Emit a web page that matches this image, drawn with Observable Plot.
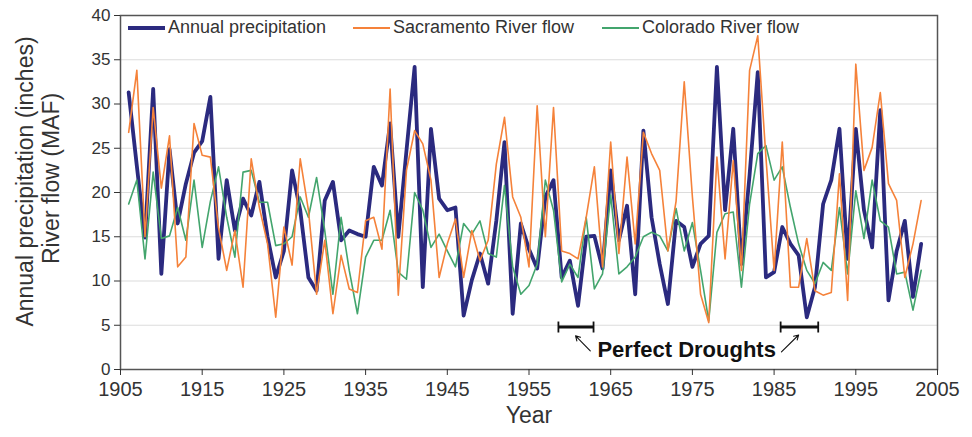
<!DOCTYPE html>
<html>
<head>
<meta charset="utf-8">
<script src="https://cdn.jsdelivr.net/npm/d3@7"></script>
<script src="https://cdn.jsdelivr.net/npm/@observablehq/plot@0.6"></script>
<style>
  body { margin: 0; background: #fff; }
  #wrap { position: relative; width: 972px; height: 437px; font-family: "Liberation Sans", Arial, sans-serif; }
  .leg { position: absolute; top: 17px; height: 21px; line-height: 21px; font-size: 18px; color: #333; white-space: nowrap; display: flex; align-items: center; }
  .sw { display: inline-block; width: 37px; margin-right: 3px; }
</style>
</head>
<body>
<div id="wrap"></div>
<script>
const years = d3.range(1906, 2004);
const precipitation = [31.3,23,14.9,31.7,10.8,24.9,16.5,21,24.5,25.8,30.8,12.5,21.4,15.7,19.3,17.4,21.2,15,10.4,13.4,22.5,18,10.4,8.9,19.1,21.2,14.6,15.7,15.3,15,22.9,20.8,27.8,15,24.7,34.2,9.3,27.2,19.3,18,18.3,6.1,10.1,13.1,9.7,16.8,25.7,6.3,16.5,13.6,11.4,19.5,21.4,10.4,12.3,7.2,15,15.1,11.4,22.5,14.6,18.5,8.5,27,17.2,11.9,7.4,16.8,16.1,11.6,14.2,15.1,34.2,18,27.2,11.9,22,33.6,10.4,11,16.1,14.2,12.9,5.9,9.3,18.7,21.4,27.2,12.5,27.2,18,13.8,29.3,7.8,13.4,16.8,8.2,14.2];
const sacramento = [26.8,33.8,15,29.6,20.5,26.4,11.6,12.7,27.8,24.2,24,16,11.2,15.7,9.3,23.8,18.3,14.2,5.9,16.1,11.8,23.8,18,8.5,14.6,6.3,12.9,9.1,8.7,16.8,17.2,13.6,31.7,8.4,22.5,27,25.5,21.4,10.4,14.2,17,10.4,15.7,12.3,14.6,23.2,28.5,19.5,17.2,11.6,29.8,15,29.6,13.4,13.1,12.5,17.2,22.9,11.6,25.7,13.1,24,14.2,26.8,24.4,22.5,13.4,19,32.5,19.5,8.5,5.3,24,12.5,23.6,11.2,33.8,37.7,24,11.2,25.7,9.3,9.3,14.8,8.9,8.4,8.7,22.1,7.8,34.5,22.5,25.1,31.3,21,19.1,10.4,14.2,19.1];
const colorado = [18.7,21.4,12.5,22.3,14.8,15.1,18.3,14.6,21.4,13.8,19,22.9,17.2,12.7,22.3,22.5,18.9,18.9,14,14.2,15,19.5,17.2,21.7,15.7,8.5,17.2,11.2,6.3,12.7,14.6,14.6,18,11,10.2,20,18,13.8,15.3,13.4,11.6,16.5,15.3,16.8,13.1,12.7,20.8,11.6,8.5,9.5,11.9,21.4,18,9.9,11.9,10.4,17.2,9.1,10.8,19.7,10.8,11.6,12.7,15,15.5,15.1,13.4,18.2,13.4,16.6,11.2,5.5,15.5,17.6,17.8,9.3,18.7,24.4,25.3,21.4,22.9,18.3,14.2,11.2,9.7,12.1,11.2,18.3,10.8,20.2,14.8,21.4,16.8,16.1,10.8,11,6.7,11.2];
const xTicks = [1905,1915,1925,1935,1945,1955,1965,1975,1985,1995,2005];
const yTicks = [0,5,10,15,20,25,30,35,40];
const droughtStart = [1958.6, 1985.8];
const droughtEnd = [1962.9, 1990.4];
const seriesNames = ["Annual precipitation", "Sacramento River flow", "Colorado River flow"];
const seriesColors = ["#2b2a7f", "#f5823a", "#43a56d"];

const data = years.map((yr, i) => ({year: yr, precip: precipitation[i], sac: sacramento[i], col: colorado[i]}));
const droughts = droughtStart.map((s, i) => ({s, e: droughtEnd[i]}));
const barY = 4.8;
const caps = droughts.flatMap(d => [d.s, d.e]);
const arrows = [
  {x1: 1962.5, y1: 2.1, x2: 1960.7, y2: 3.8},
  {x1: 1985.9, y1: 2.0, x2: 1988.0, y2: 3.9}
];

const chart = Plot.plot({
  width: 972, height: 437,
  marginLeft: 120, marginRight: 35, marginTop: 15, marginBottom: 68,
  style: {fontFamily: "'Liberation Sans', Arial, sans-serif", color: "#333", background: "#fff"},
  x: {domain: [1905, 2005]},
  y: {domain: [0, 40]},
  marks: [
    Plot.ruleY(yTicks.filter(d => d > 0 && d < 40), {stroke: "#dcdcdc", strokeWidth: 1.2}),
    Plot.line(data, {x: "year", y: "precip", stroke: seriesColors[0], strokeWidth: 3.8, strokeLinejoin: "round"}),
    Plot.line(data, {x: "year", y: "col", stroke: seriesColors[2], strokeWidth: 1.6}),
    Plot.line(data, {x: "year", y: "sac", stroke: seriesColors[1], strokeWidth: 1.6}),
    Plot.frame({stroke: "#555", strokeWidth: 1.5}),
    Plot.link(droughts, {x1: "s", x2: "e", y1: barY, y2: barY, stroke: "#111", strokeWidth: 3.2}),
    Plot.link(caps, {x1: d => d, x2: d => d, y1: barY - 0.62, y2: barY + 0.62, stroke: "#111", strokeWidth: 1.8}),
    Plot.arrow(arrows, {x1: "x1", y1: "y1", x2: "x2", y2: "y2", stroke: "#111", strokeWidth: 1.1, headLength: 7, bend: 0}),
    Plot.text(["Perfect Droughts"], {x: 1974.3, y: 2.2, text: d => d, fontSize: 22, fontWeight: "bold", fill: "#111"}),
    Plot.axisX({ticks: xTicks, tickFormat: d => String(d), tickSize: 6, tickPadding: 6, fontSize: 20, label: null}),
    Plot.axisY({ticks: yTicks, tickSize: 6, tickPadding: 4, fontSize: 17, label: null}),
    Plot.text(["Year"], {frameAnchor: "bottom", dy: 53, text: d => d, fontSize: 23, fill: "#333"}),
    Plot.text(["Annual precipitation (inches)"], {frameAnchor: "top-left", dx: -104, dy: 166, rotate: -90, textAnchor: "middle", text: d => d, fontSize: 23, fill: "#333"}),
    Plot.text(["River flow (MAF)"], {frameAnchor: "top-left", dx: -78, dy: 163, rotate: -90, textAnchor: "middle", text: d => d, fontSize: 23, fill: "#333"})
  ]
});

const wrap = document.getElementById("wrap");
wrap.appendChild(chart);
const legendX = [128, 353, 602];
seriesNames.forEach((name, i) => {
  const div = document.createElement("div");
  div.className = "leg";
  div.style.left = legendX[i] + "px";
  const sw = document.createElement("span");
  sw.className = "sw";
  sw.style.height = (i === 0 ? 4 : 2) + "px";
  sw.style.background = seriesColors[i];
  div.appendChild(sw);
  div.appendChild(document.createTextNode(name));
  wrap.appendChild(div);
});
</script>
</body>
</html>
